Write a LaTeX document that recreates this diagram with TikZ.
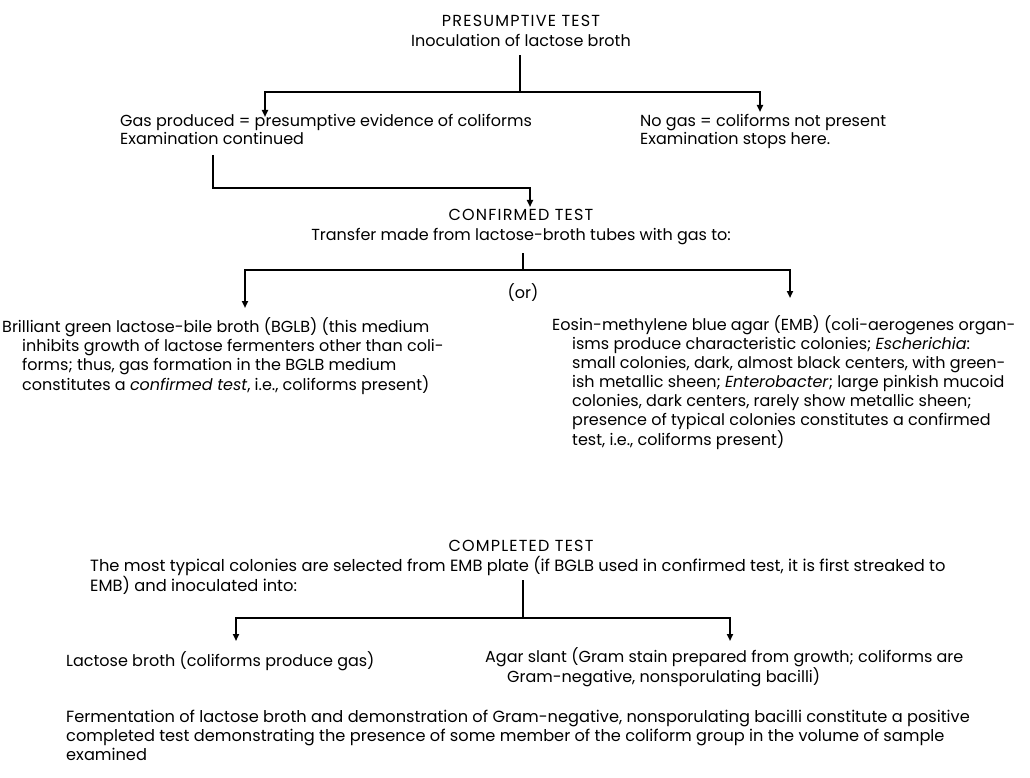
\documentclass[tikz,border=0pt]{standalone}
\usepackage{fontspec}
\setmainfont{Poppins}
\newfontfamily\titlefont{Poppins}[LetterSpace=7.5]
\usetikzlibrary{arrows.meta}

% continuation lines of a label hang in
\newcommand{\hangline}{\hspace*{20pt}}

\tikzset{
  branch/.style={line width=1.9pt},
  flow/.style={line width=1.9pt, -{Triangle[length=7pt,width=6pt]}},
  label text/.style={inner sep=0pt, anchor=base west,
    font=\fontsize{16}{19}\selectfont},
  head text/.style={label text, anchor=base},
  test title/.style={head text, font=\titlefont\fontsize{16}{19}\selectfont},
}

\begin{document}
\begin{tikzpicture}[x=1pt,y=-1pt]
  \useasboundingbox (0,0) rectangle (1030,778);

  % presumptive test
  \node (presumptive) [test title] at (521,27) {PRESUMPTIVE TEST};
  \node (inoculation) [head text] at (521,47) {Inoculation of lactose broth};
  \node (gas yes) [label text, font=\fontsize{16}{18}\selectfont] at (120,127)
    {\begin{tabular}[t]{@{}l@{}}
      Gas produced = presumptive evidence of coliforms\\
      Examination continued
    \end{tabular}};
  \node (gas no) [label text, font=\fontsize{16}{18}\selectfont] at (640,127)
    {\begin{tabular}[t]{@{}l@{}}
      No gas = coliforms not present\\
      Examination stops here.
    \end{tabular}};

  \coordinate (fork one) at (520,92);
  \coordinate (gas yes tip) at (265,117);
  \coordinate (gas no tip) at (760,112);
  \draw [branch] (inoculation.south) ++(-1,8) coordinate (fork one top) -- (fork one);
  \draw [flow] (fork one) -| (gas yes tip);
  \draw [flow] (fork one) -| (gas no tip);

  % confirmed test
  \node (confirmed) [test title] at (521,220) {CONFIRMED TEST};
  \node (transfer) [head text] at (521,240)
    {Transfer made from lactose-broth tubes with gas to:};
  \node (or) [head text] at (523,298) {(or)};

  \coordinate (continued stem) at (213,155);
  \coordinate (fork two) at (530,188);
  \coordinate (confirmed tip) at (530,207);
  \draw [flow] (continued stem) |- (fork two) -- (confirmed tip);

  \node (bglb) [label text] at (2,332)
    {\begin{tabular}[t]{@{}l@{}}
      Brilliant green lactose-bile broth (BGLB) (this medium\\
      \hangline inhibits growth of lactose fermenters other than coli-\\
      \hangline forms; thus, gas formation in the BGLB medium\\
      \hangline constitutes a \emph{confirmed test}, i.e., coliforms present)
    \end{tabular}};
  \node (emb) [label text] at (552,330)
    {\begin{tabular}[t]{@{}l@{}}
      Eosin-methylene blue agar (EMB) (coli-aerogenes organ-\\
      \hangline isms produce characteristic colonies; \emph{Escherichia}:\\
      \hangline small colonies, dark, almost black centers, with green-\\
      \hangline ish metallic sheen; \emph{Enterobacter}; large pinkish mucoid\\
      \hangline colonies, dark centers, rarely show metallic sheen;\\
      \hangline presence of typical colonies constitutes a confirmed\\
      \hangline test, i.e., coliforms present)
    \end{tabular}};

  \coordinate (fork three top) at (523,253);
  \coordinate (fork three) at (523,270);
  \coordinate (bglb tip) at (245,308);
  \coordinate (emb tip) at (790,298);
  \draw [branch] (fork three top) -- (fork three);
  \draw [flow] (fork three) -| (bglb tip);
  \draw [flow] (fork three) -| (emb tip);

  % completed test
  \node (completed) [test title] at (521,551) {COMPLETED TEST};
  \node (selected) [label text, font=\fontsize{16.3}{18}\selectfont] at (90,571)
    {\begin{tabular}[t]{@{}l@{}}
      The most typical colonies are selected from EMB plate (if BGLB used in confirmed test, it is first streaked to\\
      EMB) and inoculated into:
    \end{tabular}};

  \coordinate (fork four top) at (523,580);
  \coordinate (fork four) at (523,618);
  \coordinate (broth tip) at (236,641);
  \coordinate (slant tip) at (730,641);
  \draw [branch] (fork four top) -- (fork four);
  \draw [flow] (fork four) -| (broth tip);
  \draw [flow] (fork four) -| (slant tip);

  \node (broth) [label text] at (66,666) {Lactose broth (coliforms produce gas)};
  \node (slant) [label text, font=\fontsize{16}{18}\selectfont] at (485,662)
    {\begin{tabular}[t]{@{}l@{}}
      Agar slant (Gram stain prepared from growth; coliforms are\\
      \hspace*{22pt}Gram-negative, nonsporulating bacilli)
    \end{tabular}};

  \node (result) [label text, font=\fontsize{16.2}{19}\selectfont] at (66,722)
    {\begin{tabular}[t]{@{}l@{}}
      Fermentation of lactose broth and demonstration of Gram-negative, nonsporulating bacilli constitute a positive\\
      completed test demonstrating the presence of some member of the coliform group in the volume of sample\\
      examined
    \end{tabular}};
\end{tikzpicture}
\end{document}
